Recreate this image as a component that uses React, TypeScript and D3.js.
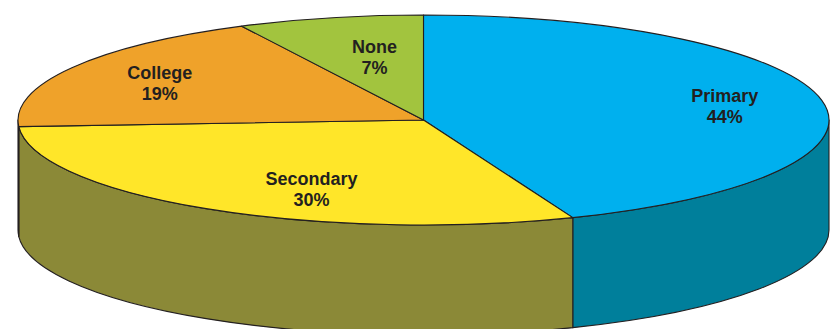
import React from "react";
import * as d3 from "d3";

const categories = ["Primary", "Secondary", "College", "None"];
const values = [44, 30, 18.6, 7.4];
const percentLabels = ["44%", "30%", "19%", "7%"];

const topColors = ["#00B0EE", "#FFE629", "#EFA22A", "#A2C43E"];
const sideColors = ["#007F9B", "#8B8937", "#A8701C", "#6E8A28"];
// label placement: [radius fraction, angle shift in degrees]
const labelPlacement: [number, number][] = [
  [0.755, 0.5],
  [0.713, -9.6],
  [0.739, -1.5],
  [0.611, 1.9],
];

const W = 837;
const H = 329;
const cx = 423.5;
const cy = 120;
const rx = 405.5;
const ry = 105;
const depth = 110;
const stroke = "#231F20";

function pt(a: number, dy = 0): [number, number] {
  return [cx + rx * Math.sin(a), cy - ry * Math.cos(a) + dy];
}

export default function App() {
  const pie = d3
    .pie<number>()
    .sort(null)
    .startAngle(0)
    .endAngle(2 * Math.PI)
    .value((d) => d);
  const arcs = pie(values);

  const sides = arcs
    .map((a, i) => {
      const b0 = Math.max(a.startAngle, Math.PI / 2);
      const b1 = Math.min(a.endAngle, (3 * Math.PI) / 2);
      if (b0 >= b1) return null;
      const p0 = pt(b0);
      const p1 = pt(b1);
      const q1 = pt(b1, depth);
      const q0 = pt(b0, depth);
      const large = b1 - b0 > Math.PI ? 1 : 0;
      const d =
        `M${p0[0]},${p0[1]} A${rx},${ry} 0 ${large} 1 ${p1[0]},${p1[1]} ` +
        `L${q1[0]},${q1[1]} A${rx},${ry} 0 ${large} 0 ${q0[0]},${q0[1]} Z`;
      return <path key={"s" + i} d={d} fill={sideColors[i]} stroke={stroke} strokeWidth={1.1} strokeLinejoin="round" />;
    })
    .filter(Boolean);

  const tops = arcs.map((a, i) => {
    const p0 = pt(a.startAngle);
    const p1 = pt(a.endAngle);
    const large = a.endAngle - a.startAngle > Math.PI ? 1 : 0;
    const d = `M${cx},${cy} L${p0[0]},${p0[1]} A${rx},${ry} 0 ${large} 1 ${p1[0]},${p1[1]} Z`;
    return <path key={"t" + i} d={d} fill={topColors[i]} stroke={stroke} strokeWidth={1.1} strokeLinejoin="round" />;
  });

  const labels = arcs.map((a, i) => {
    const [rf, shift] = labelPlacement[i];
    const mid = (a.startAngle + a.endAngle) / 2 + (shift * Math.PI) / 180;
    const x = cx + rf * rx * Math.sin(mid);
    const y = cy - rf * ry * Math.cos(mid);
    return (
      <text
        key={"l" + i}
        x={x}
        y={y - 4}
        textAnchor="middle"
        fontFamily="'Liberation Sans', Arial, sans-serif"
        fontWeight="bold"
        fontSize={18}
        fill={stroke}
      >
        <tspan x={x} dy={0}>{categories[i]}</tspan>
        <tspan x={x} dy={21}>{percentLabels[i]}</tspan>
      </text>
    );
  });

  return (
    <svg
      width={W}
      height={H}
      style={{ position: "absolute", left: 0, top: 0, background: "#fff" }}
    >
      <g>{sides}</g>
      <g>{tops}</g>
      <g>{labels}</g>
    </svg>
  );
}
